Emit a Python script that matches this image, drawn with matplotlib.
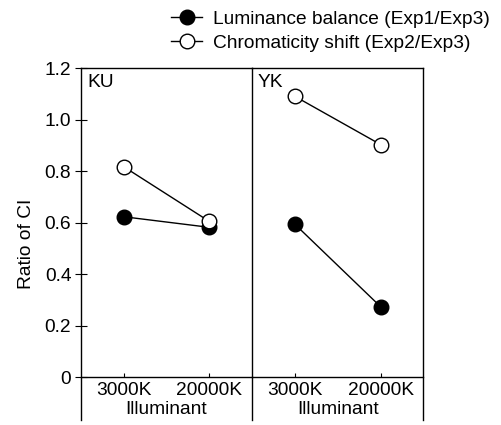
import matplotlib
matplotlib.use('Agg')
import matplotlib.pyplot as plt
from matplotlib.lines import Line2D

plt.rcParams['font.family'] = ['Liberation Sans', 'DejaVu Sans']

# ---- data ----
illuminants = ['3000K', '20000K']
subjects = ['KU', 'YK']
luminance_balance = {'KU': [0.623, 0.582], 'YK': [0.594, 0.274]}
chromaticity_shift = {'KU': [0.817, 0.605], 'YK': [1.090, 0.903]}
y_ticks = [0, 0.2, 0.4, 0.6, 0.8, 1.0, 1.2]
y_ticklabels = ['0', '0.2', '0.4', '0.6', '0.8', '1.0', '1.2']

FS = 13.8
fig = plt.figure(figsize=(5.02, 4.25), dpi=100)
W0, W1, W2 = 0.1614, 0.502, 0.8436
bottom, top = 0.012, 0.84
axes = [fig.add_axes([W0, bottom, W1 - W0, top - bottom]),
        fig.add_axes([W1, bottom, W2 - W1, top - bottom])]

x = [1, 2]
for ax, subj in zip(axes, subjects):
    ax.patch.set_alpha(0)
    ax.plot(x, luminance_balance[subj], color='black', lw=1.0, marker='o',
            ms=10.5, mfc='black', mec='black', zorder=3)
    ax.plot(x, chromaticity_shift[subj], color='black', lw=1.0, marker='o',
            ms=10.5, mfc='white', mec='black', mew=1.0, zorder=3)
    ax.set_xlim(0.5, 2.5)
    ax.set_ylim(-0.165, 1.2)
    ax.spines['bottom'].set_position(('data', 0))
    for s in ax.spines.values():
        s.set_linewidth(1.0)
    ax.set_xticks(x)
    ax.set_xticklabels(illuminants, fontsize=FS)
    ax.tick_params(axis='x', direction='in', length=3, width=0.8, pad=3)
    ax.set_xlabel('Illuminant', fontsize=FS, labelpad=2)
    ax.text(0.035, 0.982, subj, transform=ax.transAxes, fontsize=FS,
            ha='left', va='top')

axes[0].set_yticks(y_ticks)
axes[0].set_yticklabels(y_ticklabels, fontsize=FS)
axes[0].tick_params(axis='y', direction='inout', length=8, width=0.8, pad=3)
axes[0].set_ylabel('Ratio of CI', fontsize=FS)
axes[0].yaxis.set_label_coords(-0.27, 0.50)
axes[1].set_yticks([])
axes[0].spines['right'].set_visible(False)

handles = [
    Line2D([], [], color='black', lw=1.0, marker='o', ms=10.5, mfc='black', mec='black'),
    Line2D([], [], color='black', lw=1.0, marker='o', ms=10.5, mfc='white', mec='black'),
]
fig.legend(handles, ['Luminance balance (Exp1/Exp3)', 'Chromaticity shift (Exp2/Exp3)'],
           loc='upper left', bbox_to_anchor=(0.32, 1.0), frameon=False,
           fontsize=FS, handlelength=1.6, handletextpad=0.6, labelspacing=0.35,
           borderaxespad=0.15)

fig.savefig('out.png', dpi=100, facecolor='white')
